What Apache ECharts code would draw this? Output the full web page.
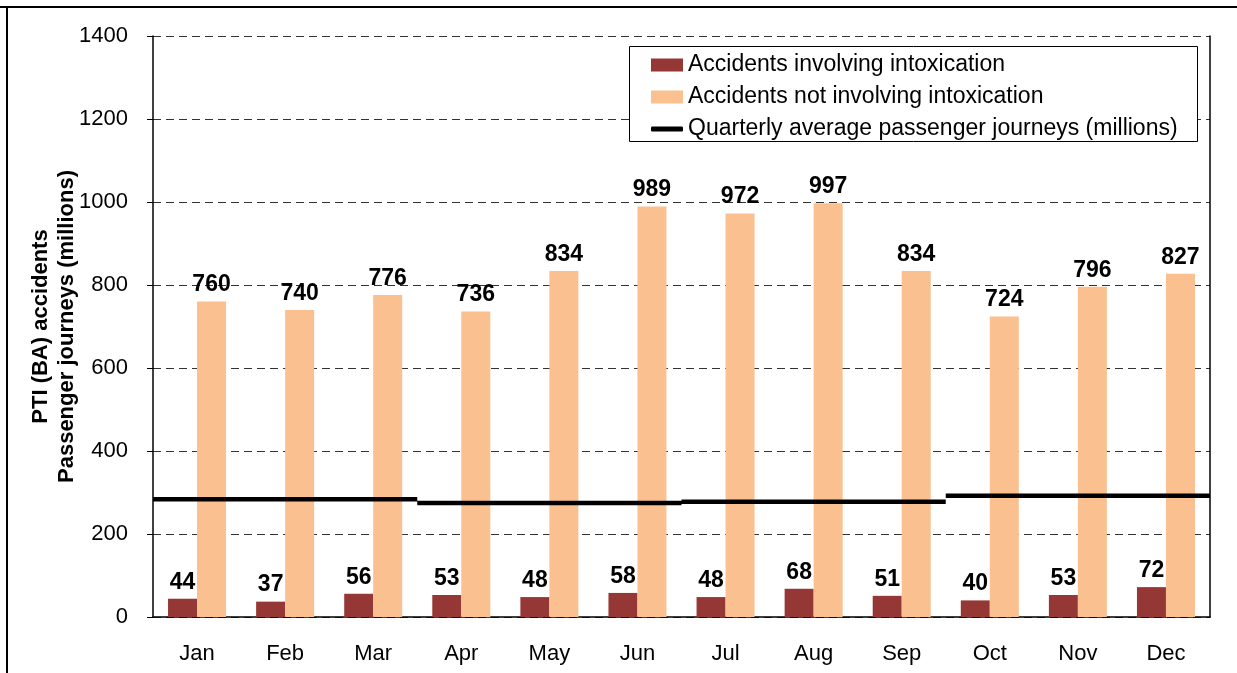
<!DOCTYPE html>
<html>
<head>
<meta charset="utf-8">
<script src="https://cdn.jsdelivr.net/npm/echarts@6/dist/echarts.min.js"></script>
<style>
  html, body { margin: 0; padding: 0; background: #fff; }
  #chart { width: 1237px; height: 673px; }
</style>
</head>
<body>
<div id="chart"></div>
<script>
// data
const months = ['Jan', 'Feb', 'Mar', 'Apr', 'May', 'Jun', 'Jul', 'Aug', 'Sep', 'Oct', 'Nov', 'Dec'];
const intoxicated = [44, 37, 56, 53, 48, 58, 48, 68, 51, 40, 53, 72];
const notIntoxicated = [760, 740, 776, 736, 834, 989, 972, 997, 834, 724, 796, 827];
const quarterStart = [0, 3, 6, 9];
const quarterEnd = [3, 6, 9, 12];
const quarterJourneys = [284, 275, 278, 292];
const yTicks = [0, 200, 400, 600, 800, 1000, 1200, 1400];

const FONT = 'Liberation Sans, Arial, sans-serif';
const NAME_A = 'Accidents involving intoxication';
const NAME_B = 'Accidents not involving intoxication';
const NAME_C = 'Quarterly average passenger journeys (millions)';

// step line: one horizontal segment per quarter, broken between quarters
const stepData = [];
quarterJourneys.forEach((v, i) => {
    stepData.push([quarterStart[i], v]);
    stepData.push([quarterEnd[i], v]);
    stepData.push('-');
});

const legendText = { fontFamily: FONT, fontSize: 23, color: '#000', lineHeight: 23 };
const barLabel = { show: true, position: 'top', distance: 5, color: '#000', fontSize: 23, fontWeight: 'bold', fontFamily: FONT };

const chart = echarts.init(document.getElementById('chart'));
chart.setOption({
    animation: false,
    textStyle: { fontFamily: FONT },
    grid: { left: 153, right: 27, top: 36, bottom: 56, containLabel: false },
    legend: [
        {
            orient: 'vertical',
            left: 651,
            top: 53.5,
            padding: 0,
            itemGap: 9,
            itemWidth: 32,
            itemHeight: 13,
            z: 10,
            textStyle: legendText,
            data: [{ name: NAME_A, icon: 'rect' }, { name: NAME_B, icon: 'rect' }],
        },
        {
            orient: 'vertical',
            left: 651,
            top: 117.5,
            padding: 0,
            itemWidth: 32,
            itemHeight: 5,
            z: 10,
            textStyle: legendText,
            data: [{ name: NAME_C, icon: 'roundRect' }],
        },
    ],
    xAxis: [
        {
            type: 'category',
            data: months,
            axisLine: { lineStyle: { color: '#000', width: 1.5 } },
            axisTick: { length: 6, lineStyle: { color: '#000' } },
            axisLabel: { color: '#000', fontSize: 22, margin: 26, fontFamily: FONT },
        },
        {
            type: 'value',
            min: 0,
            max: 12,
            show: false,
        },
    ],
    yAxis: [
        {
            type: 'value',
            min: 0,
            max: 1400,
            interval: 200,
            name: 'PTI (BA) accidents\nPassenger journeys (millions)',
            nameLocation: 'middle',
            nameGap: 73,
            nameMoveOverlap: false,
            nameTextStyle: { fontFamily: FONT, fontSize: 22, fontWeight: 'bold', color: '#000', lineHeight: 26 },
            axisLine: { show: true, lineStyle: { color: '#000', width: 1.5 } },
            axisTick: { show: true, length: 6, lineStyle: { color: '#000' } },
            axisLabel: {
                color: '#000', fontSize: 22, margin: 25, fontFamily: FONT,
                formatter: (v) => (yTicks.indexOf(v) >= 0 ? String(v) : ''),
            },
            splitLine: { lineStyle: { color: '#333', type: [8, 5], width: 1 } },
        },
        {
            type: 'value',
            min: 0,
            max: 1400,
            position: 'right',
            axisLine: { show: true, lineStyle: { color: '#000', width: 1.5 } },
            axisTick: { show: false },
            axisLabel: { show: false },
            splitLine: { show: false },
        },
    ],
    series: [
        {
            name: NAME_A,
            type: 'bar',
            data: intoxicated,
            barWidth: 29,
            barGap: '0%',
            itemStyle: { color: '#953735' },
            label: barLabel,
        },
        {
            name: NAME_B,
            type: 'bar',
            data: notIntoxicated,
            barWidth: 29,
            barGap: '0%',
            itemStyle: { color: '#FAC090' },
            label: barLabel,
        },
        {
            name: NAME_C,
            type: 'line',
            xAxisIndex: 1,
            data: stepData,
            symbol: 'none',
            connectNulls: false,
            lineStyle: { color: '#000', width: 4.5 },
            itemStyle: { color: '#000' },
            z: 5,
        },
    ],
    graphic: [
        // frame lines of the cropped outer border
        { type: 'line', shape: { x1: 0, y1: 7, x2: 1237, y2: 7 }, style: { stroke: '#000', lineWidth: 2 } },
        { type: 'line', shape: { x1: 7, y1: 7, x2: 7, y2: 673 }, style: { stroke: '#000', lineWidth: 2 } },
        // legend box
        {
            type: 'rect', z: 3,
            shape: { x: 629.5, y: 46.5, width: 568, height: 95 },
            style: { fill: '#fff', stroke: '#000', lineWidth: 1 },
        },
    ],
});
</script>
</body>
</html>
